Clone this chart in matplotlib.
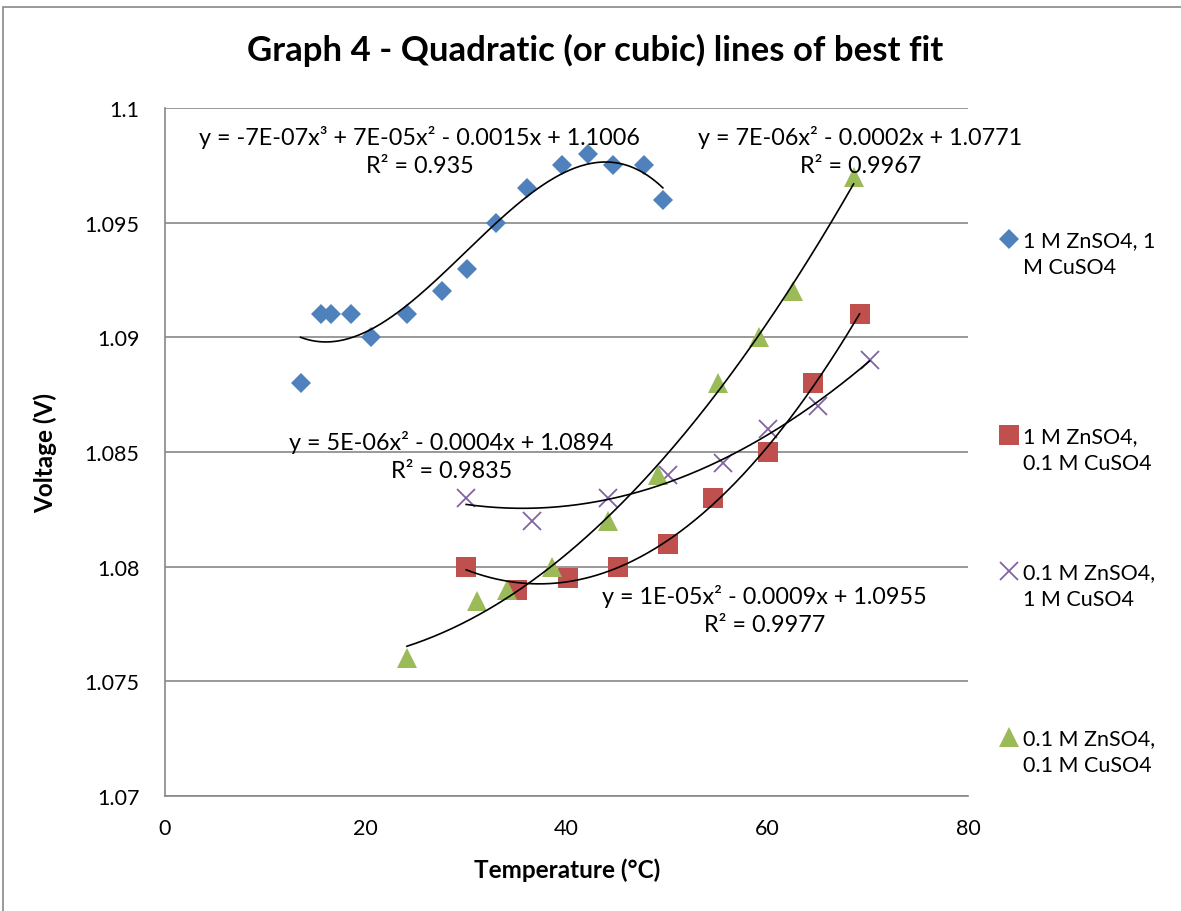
import numpy as np
import matplotlib
matplotlib.use("Agg")
import matplotlib.pyplot as plt
from matplotlib.patches import Rectangle
from matplotlib.ticker import FuncFormatter

plt.rcParams['font.family'] = ['Lato', 'DejaVu Sans']

# ---- data ----
blue_x = [13.5, 15.5, 16.5, 18.5, 20.5, 24.1, 27.6, 30.1, 33.0, 36.1, 39.6, 42.1, 44.6, 47.7, 49.6]
blue_y = [1.088, 1.091, 1.091, 1.091, 1.090, 1.091, 1.092, 1.093, 1.095, 1.0965, 1.0975, 1.098, 1.0975, 1.0975, 1.096]

red_x = [30.0, 35.1, 40.1, 45.1, 50.1, 54.6, 60.1, 64.6, 69.2]
red_y = [1.080, 1.079, 1.0795, 1.080, 1.081, 1.083, 1.085, 1.088, 1.091]

purple_x = [30.0, 36.6, 44.1, 50.1, 55.6, 60.1, 65.1, 70.2]
purple_y = [1.083, 1.082, 1.083, 1.084, 1.0845, 1.086, 1.087, 1.089]

green_x = [24.1, 31.1, 34.1, 38.6, 44.1, 49.1, 55.1, 59.2, 62.6, 68.6]
green_y = [1.076, 1.0785, 1.079, 1.080, 1.082, 1.084, 1.088, 1.090, 1.092, 1.097]

labels = ["1 M ZnSO4, 1\nM CuSO4", "1 M ZnSO4,\n0.1 M CuSO4",
          "0.1 M ZnSO4,\n1 M CuSO4", "0.1 M ZnSO4,\n0.1 M CuSO4"]
equations = ["y = -7E-07x³ + 7E-05x² - 0.0015x + 1.1006\nR² = 0.935",
             "y = 1E-05x² - 0.0009x + 1.0955\nR² = 0.9977",
             "y = 5E-06x² - 0.0004x + 1.0894\nR² = 0.9835",
             "y = 7E-06x² - 0.0002x + 1.0771\nR² = 0.9967"]
fit_degree = [3, 2, 2, 2]

title = "Graph 4 - Quadratic (or cubic) lines of best fit"
xlabel = "Temperature (°C)"
ylabel = "Voltage (V)"

# ---- style ----
colors = ['#4F81BD', '#C0504D', '#8064A2', '#9BBB59']
markers = ['D', 's', 'x', '^']
msizes = [9.8, 14, 13.5, 14.5]
eq_pos = [(0.317, 0.938), (0.747, 0.271), (0.357, 0.495), (0.866, 0.938)]
legend_top_px = [231, 427, 563, 729]

W, H = 1181, 912
fig = plt.figure(figsize=(W / 100, H / 100), dpi=100)
fig.patch.set_facecolor('white')
ax = fig.add_axes([165 / W, 1 - 797 / H, (968 - 165) / W, (797 - 109) / H])

series = [(blue_x, blue_y), (red_x, red_y), (purple_x, purple_y), (green_x, green_y)]
handles = []
for i, (xs, ys) in enumerate(series):
    xs = np.array(xs); ys = np.array(ys)
    if markers[i] == 'x':
        h, = ax.plot(xs, ys, linestyle='none', marker='x', ms=msizes[i],
                     mew=1.3, color=colors[i], zorder=3)
    else:
        h, = ax.plot(xs, ys, linestyle='none', marker=markers[i], ms=msizes[i],
                     mew=0, color=colors[i], zorder=3)
    handles.append(h)
    coef = np.polyfit(xs, ys, fit_degree[i])
    xf = np.linspace(xs.min(), xs.max(), 200)
    ax.plot(xf, np.polyval(coef, xf), color='black', lw=1.2, zorder=4)
    ax.text(eq_pos[i][0], eq_pos[i][1], equations[i], transform=ax.transAxes,
            ha='center', va='center', fontsize=16.8, linespacing=1.42, zorder=5,
            clip_on=False)

ax.set_xlim(0, 80)
ax.set_ylim(1.07, 1.1)
ax.set_xticks([0, 20, 40, 60, 80])
ax.set_yticks(np.arange(1.07, 1.1001, 0.005))
ax.yaxis.set_major_formatter(FuncFormatter(lambda v, p: ('%.3f' % v).rstrip('0').rstrip('.')))
ax.grid(axis='y', color='#878787', lw=1.2)
ax.set_axisbelow(True)
for s in ['top', 'right']:
    ax.spines[s].set_visible(False)
for s in ['left', 'bottom']:
    ax.spines[s].set_color('#878787')
    ax.spines[s].set_linewidth(1.2)
ax.tick_params(axis='both', length=0, labelsize=15.5)
ax.tick_params(axis='y', pad=18.5)
ax.tick_params(axis='x', pad=16)

ax.set_xlabel(xlabel, fontsize=17.5, fontweight='bold', va='center')
ax.xaxis.set_label_coords((567 - 165) / 803, (797 - 870) / 688)
ax.set_ylabel(ylabel, fontsize=17.5, fontweight='bold', va='center')
ax.yaxis.set_label_coords((45 - 165) / 803, (797 - 453) / 688)
fig.text(595 / W, 1 - 50 / H, title, ha='center', va='center', fontsize=25, fontweight='bold')

for i, h in enumerate(handles):
    leg = fig.legend([h], [labels[i]], loc='upper left',
                     bbox_to_anchor=(1000 / W, 1 - legend_top_px[i] / H),
                     frameon=False, fontsize=15.5, handlelength=0.85, handleheight=1.25,
                     handletextpad=0.2, borderaxespad=0, borderpad=0, labelspacing=0)
    for t in leg.get_texts():
        t.set_linespacing(1.45)
    for col in leg._legend_handle_box.get_children():
        for item in col.get_children():
            item.align = 'top'

fig.add_artist(Rectangle((3 / W, -0.1), 1.2, 1 - 8 / H + 0.1, transform=fig.transFigure,
                         fill=False, ec='#888888', lw=1.2))

fig.savefig('out.png', dpi=100)
